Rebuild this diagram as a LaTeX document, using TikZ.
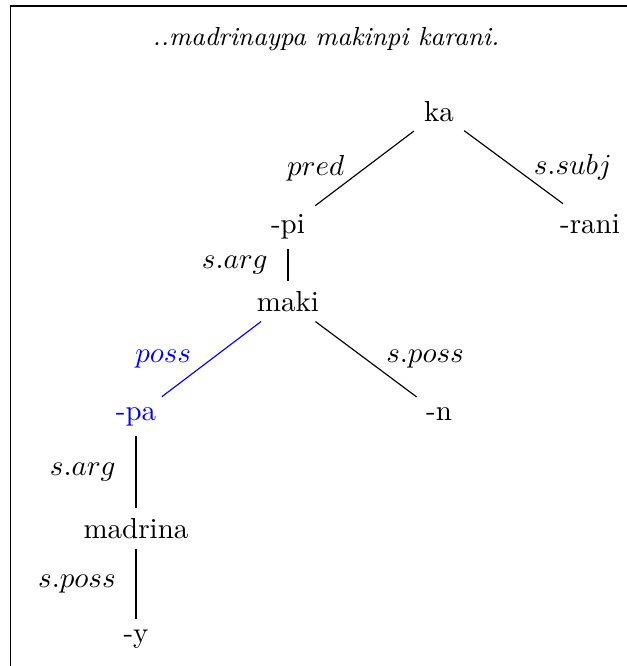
\documentclass[tikz,border=0pt]{standalone}
\usetikzlibrary{positioning}
\newcommand{\colpa}{136}
\newcommand{\colpi}{288}
\newcommand{\colka}{439}
\newcommand{\colrani}{590}
\newcommand{\rowka}{122}
\newcommand{\rowpi}{233}
\newcommand{\rowmaki}{311}
\newcommand{\rowpa}{420}
\newcommand{\rowmadrina}{538}
\newcommand{\rowy}{642}
\begin{document}
\begin{tikzpicture}[x=0.3448pt,y=-0.3448pt,anchor=base,
    lbl/.style={inner sep=6.8pt,anchor=center},
    hl/.style={blue}]
    \useasboundingbox (0,0) rectangle (627,666);
    \draw (10.5,666) |- (627,6);

    \node (title) at (326,46) {\small\itshape ..madrinaypa makinpi karani.};

    \node (ka) at (\colka, \rowka) {ka};
    \node (pi) at (\colpi, \rowpi) {-pi};
    \node (rani) at (\colrani, \rowpi) {-rani};
    \node (maki) at (\colpi, \rowmaki) {maki};
    \node[hl] (pa) at (\colpa, \rowpa) {-pa};
    \node (n) at (\colka, \rowpa) {-n};
    \node (madrina) at (\colpa, \rowmadrina) {madrina};
    \node (y) at (\colpa, \rowy) {-y};

    \draw (ka) -- node[lbl,left] (lpred) {$pred$} (pi);
    \draw (ka) -- node[lbl,right] (lssubj) {$s.subj$} (rani);
    \draw (pi) -- node[lbl,left] (lsarga) {$s.arg$} (maki);
    \draw[hl] (maki) -- node[lbl,left] (lposs) {$poss$} (pa);
    \draw (maki) -- node[lbl,right] (lsposs) {$s.poss$} (n);
    \draw (pa) -- node[lbl,left] (lsargb) {$s.arg$} (madrina);
    \draw (madrina) -- node[lbl,left] (lspossb) {$s.poss$} (y);
\end{tikzpicture}
\end{document}
